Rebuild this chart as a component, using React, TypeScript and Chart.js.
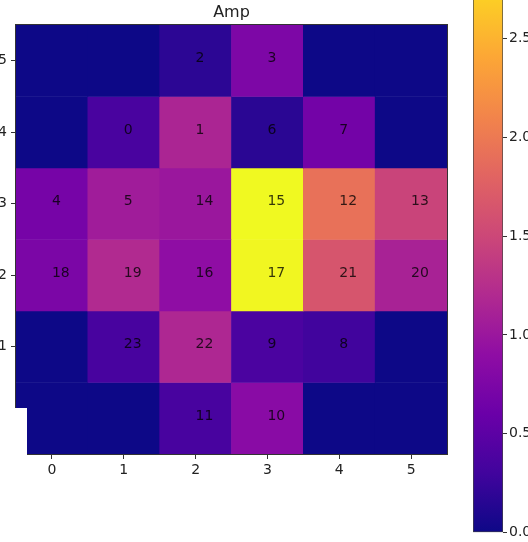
import React, { useEffect, useRef } from "react";
import { Chart, registerables } from "chart.js";

Chart.register(...registerables);

// ---- data ----
const TITLE = "Amp";
const COLUMNS = ["0", "1", "2", "3", "4", "5"];
const ROW_IDS = [5, 4, 3, 2, 1, 0];

const row5Amp = [0, 0, 0.18, 0.75, 0, 0];
const row4Amp = [0, 0.36, 1.15, 0.17, 0.67, 0];
const row3Amp = [0.7, 1.05, 1.0, 3.0, 1.92, 1.47];
const row2Amp = [0.74, 1.2, 0.9, 2.98, 1.65, 1.12];
const row1Amp = [0, 0.35, 1.17, 0.37, 0.3, 0];
const row0Amp = [0, 0, 0.35, 0.85, 0, 0];

const row5Ids = [null, null, "2", "3", null, null];
const row4Ids = [null, "0", "1", "6", "7", null];
const row3Ids = ["4", "5", "14", "15", "12", "13"];
const row2Ids = ["18", "19", "16", "17", "21", "20"];
const row1Ids = [null, "23", "22", "9", "8", null];
const row0Ids = [null, null, "11", "10", null, null];

const AMP_ROWS = [row5Amp, row4Amp, row3Amp, row2Amp, row1Amp, row0Amp];
const ID_ROWS = [row5Ids, row4Ids, row3Ids, row2Ids, row1Ids, row0Ids];

const V_MIN = 0;
const V_MAX = 3.0;
const CBAR_STEP = 0.5;

// plasma colormap stops
const PLASMA: [number, number, number][] = [
  [13, 8, 135],
  [65, 4, 157],
  [106, 0, 168],
  [143, 13, 164],
  [177, 42, 144],
  [204, 71, 120],
  [225, 100, 98],
  [242, 132, 75],
  [252, 166, 54],
  [252, 206, 37],
  [240, 249, 33],
];

function plasma(t: number): string {
  const tt = Math.max(0, Math.min(1, t));
  const pos = tt * (PLASMA.length - 1);
  const i = Math.min(PLASMA.length - 2, Math.floor(pos));
  const f = pos - i;
  const a = PLASMA[i];
  const b = PLASMA[i + 1];
  const c = a.map((v, k) => Math.round(v + (b[k] - v) * f));
  return `rgb(${c[0]},${c[1]},${c[2]})`;
}

const FONT = "'DejaVu Sans', sans-serif";

export default function App() {
  const mainRef = useRef<HTMLCanvasElement | null>(null);
  const cbarRef = useRef<HTMLCanvasElement | null>(null);

  useEffect(() => {
    const labelPlugin = {
      id: "cellLabels",
      afterDatasetsDraw(chart: any) {
        const ctx = chart.ctx;
        ctx.save();
        ctx.font = `14px ${FONT}`;
        ctx.fillStyle = "rgba(0,0,0,0.78)";
        ctx.textAlign = "left";
        ctx.textBaseline = "alphabetic";
        chart.data.datasets.forEach((ds: any, i: number) => {
          const meta = chart.getDatasetMeta(i);
          const ids = ID_ROWS[i];
          const yPix = chart.scales.y.getPixelForValue(ROW_IDS[i]);
          meta.data.forEach((bar: any, c: number) => {
            const lab = ids[c];
            if (lab !== null) ctx.fillText(lab, bar.x, yPix + 1.5);
          });
        });
        ctx.restore();
      },
      afterDraw(chart: any) {
        const { ctx, chartArea } = chart;
        ctx.save();
        ctx.strokeStyle = "#333";
        ctx.lineWidth = 1;
        ctx.strokeRect(
          Math.round(chartArea.left) - 0.5,
          Math.round(chartArea.top) - 0.5,
          Math.round(chartArea.right - chartArea.left) + 1,
          Math.round(chartArea.bottom - chartArea.top) + 1
        );
        ctx.font = `16px ${FONT}`;
        ctx.fillStyle = "#222";
        ctx.textAlign = "center";
        ctx.textBaseline = "middle";
        ctx.fillText(TITLE, (chartArea.left + chartArea.right) / 2, 13);
        ctx.restore();
      },
    };

    const main = new Chart(mainRef.current!, {
      type: "bar",
      data: {
        labels: COLUMNS,
        datasets: AMP_ROWS.map((vals, i) => ({
          label: `row ${ROW_IDS[i]}`,
          data: vals.map(() => [ROW_IDS[i] - 0.5, ROW_IDS[i] + 0.5]) as any,
          backgroundColor: vals.map((v) => plasma((v - V_MIN) / (V_MAX - V_MIN))),
          borderWidth: 0,
          barPercentage: 1,
          categoryPercentage: 1,
          grouped: false,
        })),
      },
      options: {
        animation: false,
        responsive: false,
        devicePixelRatio: 1,
        layout: { padding: { top: 25, right: 2, left: 0, bottom: 0 } },
        plugins: {
          legend: { display: false },
          tooltip: { enabled: false },
          title: { display: false },
        },
        scales: {
          x: {
            type: "category",
            offset: true,
            grid: {
              offset: false,
              drawOnChartArea: false,
              drawTicks: true,
              tickLength: 5,
              tickColor: "#333",
            },
            border: { display: false },
            ticks: { color: "#222", font: { family: FONT, size: 14 }, padding: 3, maxRotation: 0 },
            afterFit: (s: any) => {
              s.height = 40;
            },
          },
          y: {
            type: "linear",
            min: -0.5,
            max: 5.5,
            grid: {
              drawOnChartArea: false,
              drawTicks: true,
              tickLength: 5,
              tickColor: "#333",
            },
            border: { display: false },
            afterBuildTicks: (s: any) => {
              s.ticks = ROW_IDS.map((v) => ({ value: v }));
            },
            ticks: {
              color: "#222",
              font: { family: FONT, size: 14 },
              padding: 4,
              callback: (v: any) => String(v),
            },
            afterFit: (s: any) => {
              s.width = 30;
            },
          },
        },
      },
      plugins: [labelPlugin],
    });

    const cbar = new Chart(cbarRef.current!, {
      type: "bar",
      data: {
        labels: [""],
        datasets: [
          {
            label: TITLE,
            data: [[V_MIN, V_MAX]] as any,
            backgroundColor: (c: any) => {
              const chart = c.chart;
              if (!chart.chartArea) return "#888";
              const y = chart.scales.y;
              const g = chart.ctx.createLinearGradient(
                0,
                y.getPixelForValue(V_MIN),
                0,
                y.getPixelForValue(V_MAX)
              );
              PLASMA.forEach((_, k) => {
                const t = k / (PLASMA.length - 1);
                g.addColorStop(t, plasma(t));
              });
              return g;
            },
            borderColor: "#444",
            borderWidth: 1,
            borderSkipped: false,
            barPercentage: 1,
            categoryPercentage: 1,
          },
        ],
      },
      options: {
        animation: false,
        responsive: false,
        devicePixelRatio: 1,
        layout: { padding: { top: 10, bottom: 10, left: 1, right: 0 } },
        plugins: { legend: { display: false }, tooltip: { enabled: false } },
        scales: {
          x: { display: false, offset: true },
          y: {
            type: "linear",
            position: "right",
            min: V_MIN,
            max: V_MAX,
            grid: {
              drawOnChartArea: false,
              drawTicks: true,
              tickLength: 4,
              tickColor: "#333",
            },
            border: { display: false },
            ticks: {
              stepSize: CBAR_STEP,
              color: "#222",
              font: { family: FONT, size: 14 },
              padding: 2,
              callback: (v: any) => Number(v).toFixed(1),
            },
            afterFit: (s: any) => {
              s.width = 59;
            },
          },
        },
      },
    });

    return () => {
      main.destroy();
      cbar.destroy();
    };
  }, []);

  return (
    <div
      style={{
        position: "fixed",
        left: 0,
        top: 0,
        width: 528,
        height: 542,
        overflow: "hidden",
        background: "#fff",
      }}
    >
      <canvas
        ref={mainRef}
        width={463}
        height={494}
        style={{ position: "absolute", left: -14, top: 0, width: 463, height: 494 }}
      />
      <canvas
        ref={cbarRef}
        width={90}
        height={614}
        style={{ position: "absolute", left: 472, top: -71, width: 90, height: 614 }}
      />
      <div
        style={{ position: "absolute", left: 0, top: 408, width: 27, height: 47, background: "#fff" }}
      />
    </div>
  );
}
